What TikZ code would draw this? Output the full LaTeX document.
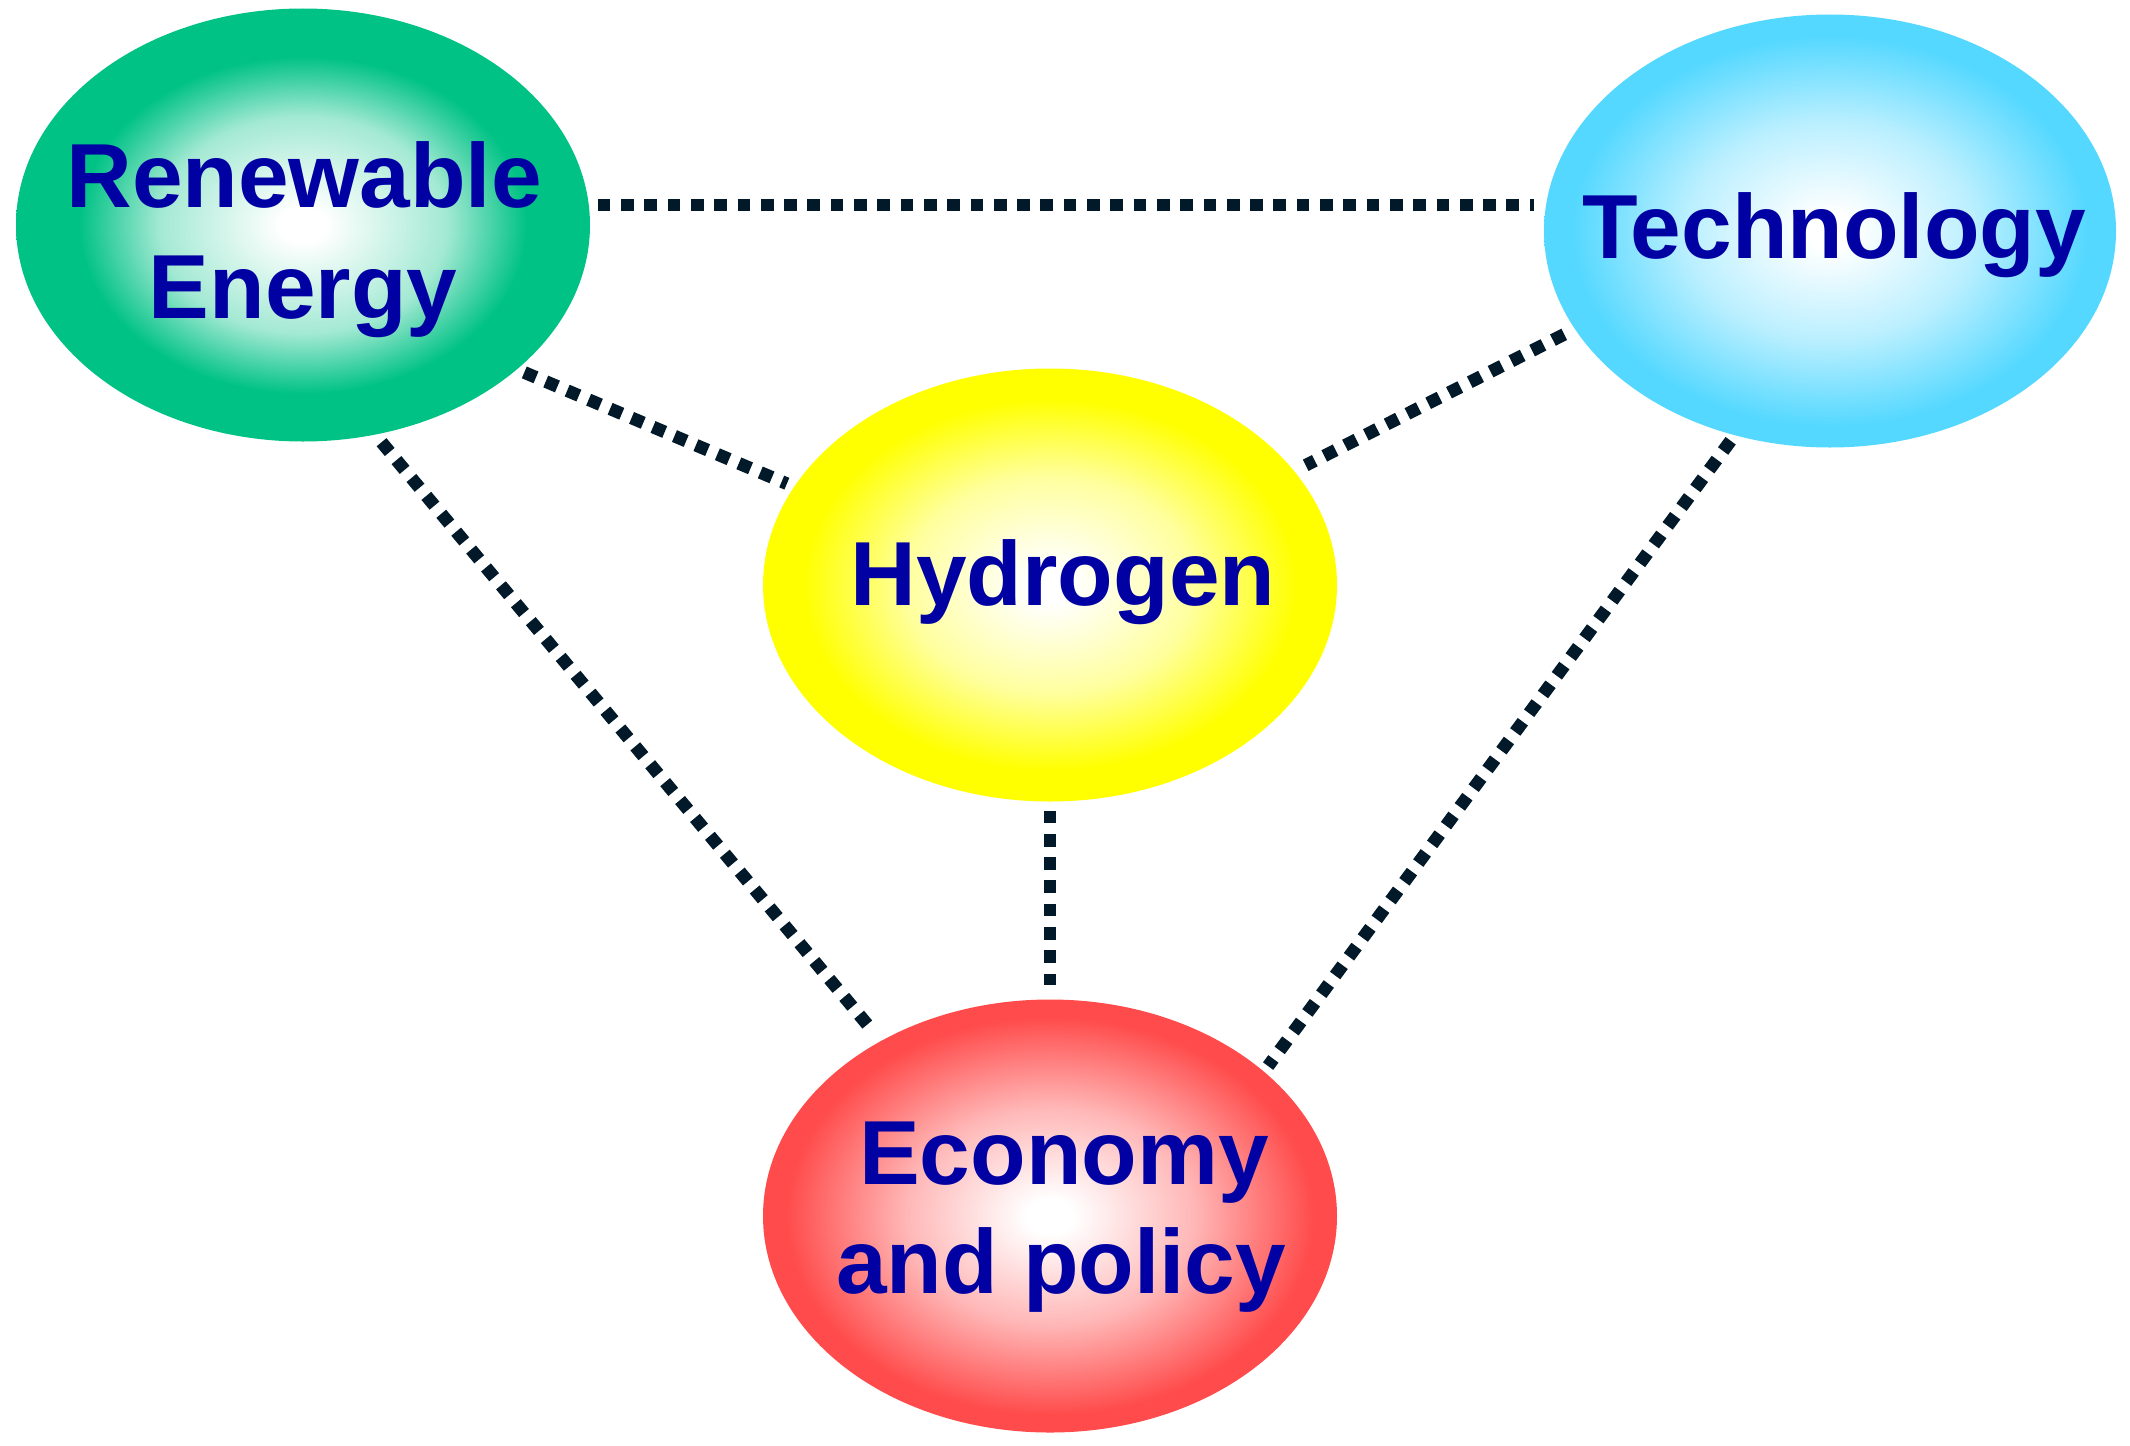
\documentclass[tikz,border=0pt]{standalone}
\usepackage{fontspec}
\setmainfont{Liberation Sans}
\usetikzlibrary{shapes.geometric}
\definecolor{cre}{RGB}{0,194,133}
\definecolor{ctech}{RGB}{85,216,255}
\definecolor{chyd}{RGB}{255,255,0}
\definecolor{ceco}{RGB}{255,75,75}
\definecolor{ctxt}{RGB}{0,0,163}
\definecolor{cline}{RGB}{1,25,40}
\colorlet{cremid}{cre!36!white}
\colorlet{ctechmid}{ctech!40!white}
\colorlet{chydmid}{chyd!38!white}
\colorlet{cecomid}{ceco!40!white}
\pgfdeclareradialshading{shre}{\pgfpoint{0bp}{0bp}}{color(0bp)=(white);color(2bp)=(white);color(12.5bp)=(cremid);color(19.5bp)=(cre);color(25bp)=(cre);color(50bp)=(cre)}
\pgfdeclareradialshading{shtech}{\pgfpoint{0bp}{0bp}}{color(0bp)=(white);color(2bp)=(white);color(12.5bp)=(ctechmid);color(22.5bp)=(ctech);color(25bp)=(ctech);color(50bp)=(ctech)}
\pgfdeclareradialshading{shhyd}{\pgfpoint{0bp}{0bp}}{color(0bp)=(white);color(2bp)=(white);color(12.5bp)=(chydmid);color(21.5bp)=(chyd);color(25bp)=(chyd);color(50bp)=(chyd)}
\pgfdeclareradialshading{sheco}{\pgfpoint{0bp}{0bp}}{color(0bp)=(white);color(2bp)=(white);color(12.5bp)=(cecomid);color(23bp)=(ceco);color(25bp)=(ceco);color(50bp)=(ceco)}
\begin{document}
\begin{tikzpicture}[x=1pt,y=-1pt,
  blob/.style={ellipse, minimum width=574pt, minimum height=433pt, inner sep=0pt, outer sep=0pt, draw=none},
  lbl/.style={anchor=base, text=ctxt, font=\fontsize{91}{110}\selectfont\bfseries, inner sep=0pt},
  dotlink/.style={draw=cline, line width=12.7pt, dash pattern=on 12.7pt off 10.6pt}]
\fill[white] (0,0) rectangle (2130,1445);
\useasboundingbox (0,0) rectangle (2130,1445);
% ellipses
\node[blob, shade, shading=shre] (re) at (303,225) {};
\node[blob, shade, shading=shtech, minimum width=572pt] (tech) at (1830,231) {};
\node[blob, shade, shading=shhyd] (hyd) at (1050,585) {};
\node[blob, shade, shading=sheco] (eco) at (1050,1216) {};
% connectors
\draw[dotlink, shorten <=9pt, shorten >=10pt] (re.4.9) -- (re.4.9 -| tech.west);
\draw[dotlink, shorten <=8pt, shorten >=8pt] (re.326.45) -- (hyd.159.2);
\draw[dotlink, shorten <=12pt, shorten >=13pt] (tech.201.4) -- (hyd.25.7);
\draw[dotlink, shorten <=9pt, shorten >=15pt] (hyd.south) -- (eco.north);
\draw[dotlink, shorten <=10pt, shorten >=18pt] (re.289.65) -- (eco.134.25);
\draw[dotlink, shorten <=7pt, shorten >=7pt] (tech.245.7) -- (eco.34.6);
% labels
\node[lbl] (tre1) at (304,207) {Renewable};
\node[lbl] (tre2) at (303,318) {Energy};
\node[lbl] (ttech) at (1834,258) {Technology};
\node[lbl] (thyd) at (1063,605) {Hydrogen};
\node[lbl] (teco1) at (1064,1184) {Economy};
\node[lbl] (teco2) at (1061,1293) {and policy};
\end{tikzpicture}
\end{document}
